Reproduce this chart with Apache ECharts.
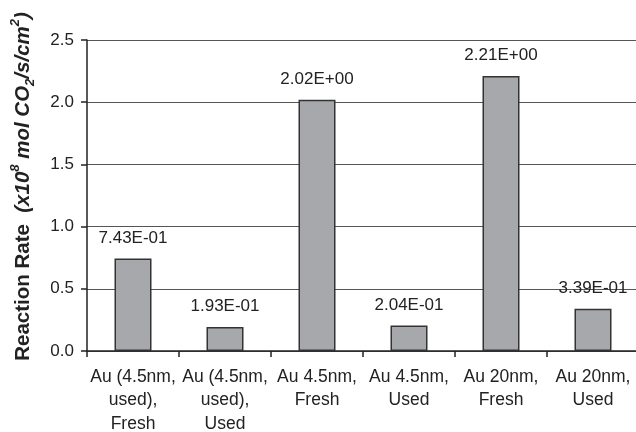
<!DOCTYPE html>
<html>
<head>
<meta charset="utf-8">
<script src="https://cdn.jsdelivr.net/npm/echarts@6/dist/echarts.min.js"></script>
<style>
  html, body { margin: 0; padding: 0; background: #fff; }
  #chart { width: 636px; height: 432px; }
</style>
</head>
<body>
<div id="chart"></div>
<script>
  const categories = [
    'Au (4.5nm,\nused),\nFresh',
    'Au (4.5nm,\nused),\nUsed',
    'Au 4.5nm,\nFresh',
    'Au 4.5nm,\nUsed',
    'Au 20nm,\nFresh',
    'Au 20nm,\nUsed'
  ]
  const rates = [0.743, 0.193, 2.02, 0.204, 2.21, 0.339]
  const rateLabels = ['7.43E-01', '1.93E-01', '2.02E+00', '2.04E-01', '2.21E+00', '3.39E-01']
  const yTicks = [0, 0.5, 1.0, 1.5, 2.0, 2.5]

  const font = 'Liberation Sans, Arial, sans-serif'
  const mChart = echarts.init(document.getElementById('chart'))

  const option = {
    animation: false,
    grid: {
      left: 87,
      right: -3,
      top: 40,
      bottom: 81,
      outerBoundsMode: 'none'
    },
    xAxis: {
      type: 'category',
      data: categories,
      axisLine: { lineStyle: { color: '#222', width: 1.5 } },
      axisTick: { show: true, length: 6, lineStyle: { color: '#222', width: 1.5 } },
      axisLabel: {
        color: '#222',
        fontFamily: font,
        fontSize: 17.5,
        lineHeight: 23.5,
        margin: 14,
        interval: 0
      }
    },
    yAxis: {
      type: 'value',
      min: yTicks[0],
      max: yTicks[yTicks.length - 1],
      interval: 0.5,
      axisLine: { show: true, lineStyle: { color: '#222', width: 1.5 } },
      axisTick: { show: true, length: 6, lineStyle: { color: '#222', width: 1.5 } },
      axisLabel: {
        color: '#222',
        fontFamily: font,
        fontSize: 17,
        margin: 13,
        formatter: (v) => v.toFixed(1)
      },
      splitLine: { lineStyle: { color: '#555', width: 1 } },
      name: '{b|Reaction Rate  }{i|(x10}{sup|8}{i| mol CO}{sub|2}{i|/s/cm}{sup|2}{i|)}',
      nameLocation: 'middle',
      nameRotate: 90,
      nameGap: 50,
      nameTextStyle: {
        padding: [0, 0, 0, 18],
        rich: {
          b: { fontFamily: font, fontWeight: 'bold', fontSize: 20.5, color: '#222', lineHeight: 28 },
          i: { fontFamily: font, fontWeight: 'bold', fontStyle: 'italic', fontSize: 20.5, color: '#222', lineHeight: 28 },
          sup: { fontFamily: font, fontWeight: 'bold', fontStyle: 'italic', fontSize: 13, color: '#222', verticalAlign: 'top', lineHeight: 28 },
          sub: { fontFamily: font, fontWeight: 'bold', fontStyle: 'italic', fontSize: 13, color: '#222', verticalAlign: 'bottom', lineHeight: 28 }
        }
      }
    },
    series: [{
      type: 'bar',
      data: rates,
      barWidth: 37,
      itemStyle: {
        color: '#a7a8ab',
        borderColor: '#333',
        borderWidth: 1.5
      },
      label: {
        show: true,
        position: 'top',
        distance: 12,
        color: '#222',
        fontFamily: font,
        fontSize: 17,
        formatter: (p) => rateLabels[p.dataIndex]
      }
    }]
  }

  mChart.setOption(option)
  window.addEventListener('resize', function() {
    mChart.resize()
  })
</script>
</body>
</html>
